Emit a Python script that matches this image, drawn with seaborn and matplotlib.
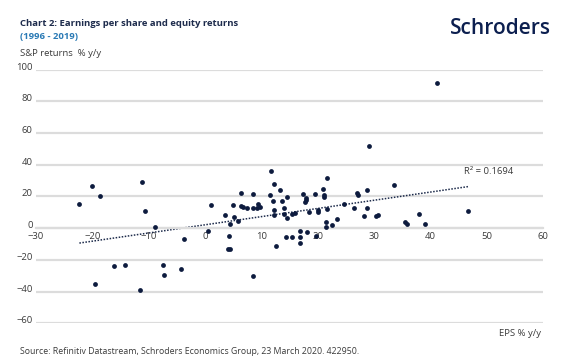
import matplotlib
matplotlib.use("Agg")
import matplotlib.pyplot as plt
import matplotlib.transforms as mtransforms
import seaborn as sns
import numpy as np
import pandas as pd

# EPS growth % y/y (x) and S&P returns % y/y (y)
eps = [-22.3, -20.1, -18.7, -11.2, -10.6, -8.8, -3.8, -16.1, -14.2, -7.4,
       -7.2, -4.2, -19.6, -11.6, 11.7, 12.3, 13.4, 6.4, 8.5, 11.5,
       14.6, 1.1, 5.0, 6.4, 6.7, 7.5, 8.5, 9.2, 9.4, 9.7,
       12.0, 13.7, 14.0, 12.3, 14.0, 12.2, 3.5, 5.2, 5.9, 4.5,
       0.5, 4.2, 14.4, 12.6, 4.1, 4.5, 8.6, 15.5, 16.8, 16.9,
       16.8, 18.1, 19.7, 17.4, 17.9, 17.9, 17.8, 19.6, 20.9, 21.7,
       21.1, 21.2, 20.1, 20.1, 21.7, 18.5, 15.9, 15.5, 14.5, 24.6,
       23.5, 21.5, 21.4, 22.5, 26.5, 27.0, 27.1, 28.7, 28.7, 28.3,
       30.4, 30.7, 29.2, 33.5, 35.5, 35.8, 38.0, 39.1, 46.7, 41.2]
sp_returns = [14.9, 26.7, 20.2, 29.0, 11.1, 1.0, -6.9, -24.0, -23.3, -23.0,
              -29.3, -25.7, -35.1, -39.3, 36.3, 27.7, 24.1, 22.1, 21.2, 20.6,
              19.7, 14.7, 14.3, 13.9, 13.2, 12.4, 13.0, 12.6, 15.3, 13.4,
              16.8, 17.2, 12.6, 11.5, 9.0, 8.0, 8.4, 7.3, 4.6, 2.7,
              -1.7, -5.0, -5.7, -11.0, -13.1, -13.2, -30.0, -5.5, -1.9, -5.3,
              -9.5, -2.5, -4.9, 21.4, 18.9, 17.8, 16.4, 21.6, 24.6, 31.5,
              21.0, 19.9, 11.3, 10.3, 12.2, 10.1, 9.5, 9.2, 6.3, 15.5,
              5.9, 3.8, 1.0, 1.7, 12.4, 22.4, 20.6, 24.1, 12.4, 7.8,
              7.9, 8.4, 51.5, 27.1, 3.8, 2.9, 8.8, 2.9, 11.1, 91.6]

x_ticks = [-30, -20, -10, 0, 10, 20, 30, 40, 50, 60]
y_ticks = [-60, -40, -20, 0, 20, 40, 60, 80, 100]
r2_label = "R² = 0.1694"

df = pd.DataFrame({"eps": eps, "ret": sp_returns})

sns.set_theme(style="white")
plt.rcParams['font.family'] = ['Open Sans', 'DejaVu Sans']

W, H = 571, 363
fig = plt.figure(figsize=(W / 100, H / 100), dpi=100)
left, right, top, bottom = 36, 543, 69.5, 323.3
ax = fig.add_axes([left / W, 1 - bottom / H, (right - left) / W, (bottom - top) / H])

navy = "#0d1b3e"
txt = "#3a3a3a"
grid = "#dcdcdc"

sns.regplot(data=df, x="eps", y="ret", ax=ax, scatter=False, ci=None,
            line_kws=dict(color="#1c2a4a", lw=1.1, ls=(0, (1, 1))))
sns.scatterplot(data=df, x="eps", y="ret", ax=ax, s=12, color=navy,
                edgecolor=navy, linewidth=0, zorder=3)

ax.set_xlim(-30, 60)
ax.set_ylim(-60, 100)
ax.set_xticks(x_ticks)
ax.set_yticks(y_ticks)
ax.set_xlabel("")
ax.set_ylabel("")
for s in ["top", "right", "left"]:
    ax.spines[s].set_visible(False)
ax.spines["bottom"].set_position(("data", 0))
ax.spines["bottom"].set_color(grid)
ax.spines["bottom"].set_linewidth(1.6)
ax.yaxis.grid(True, color=grid, lw=1.6)
ax.set_axisbelow(True)
ax.tick_params(axis="both", length=0, labelsize=6.8, labelcolor=txt)
ax.tick_params(axis="x", pad=2.5)
ax.tick_params(axis="y", pad=2.5)
offset = mtransforms.ScaledTranslation(0, 2.5 / 72, fig.dpi_scale_trans)
for lbl in ax.get_yticklabels():
    lbl.set_transform(lbl.get_transform() + offset)

ax.text(46.0, 35.5, r2_label, fontsize=6.8, color=txt, ha="left", va="center")

fig.text(20 / W, 1 - 24 / H, "Chart 2: Earnings per share and equity returns",
         fontsize=6.8, fontweight="bold", color="#1d2b4c", ha="left", va="center")
fig.text(20 / W, 1 - 36.5 / H, "(1996 - 2019)", fontsize=6.8, fontweight="bold",
         color="#2a7ab5", ha="left", va="center")
fig.text(20 / W, 1 - 53 / H, "S&P returns  % y/y", fontsize=6.8, color=txt,
         ha="left", va="center")
fig.text(541 / W, 1 - 333 / H, "EPS % y/y", fontsize=6.8, color=txt,
         ha="right", va="center")
fig.text(20 / W, 1 - 352 / H,
         "Source: Refinitiv Datastream, Schroders Economics Group, 23 March 2020. 422950.",
         fontsize=6.3, color=txt, ha="left", va="center")
fig.text(551 / W, 1 - 29 / H, "Schroders", fontsize=15, fontweight="semibold",
         color="#0c1f4f", ha="right", va="center")

fig.savefig("out.png", dpi=100)
